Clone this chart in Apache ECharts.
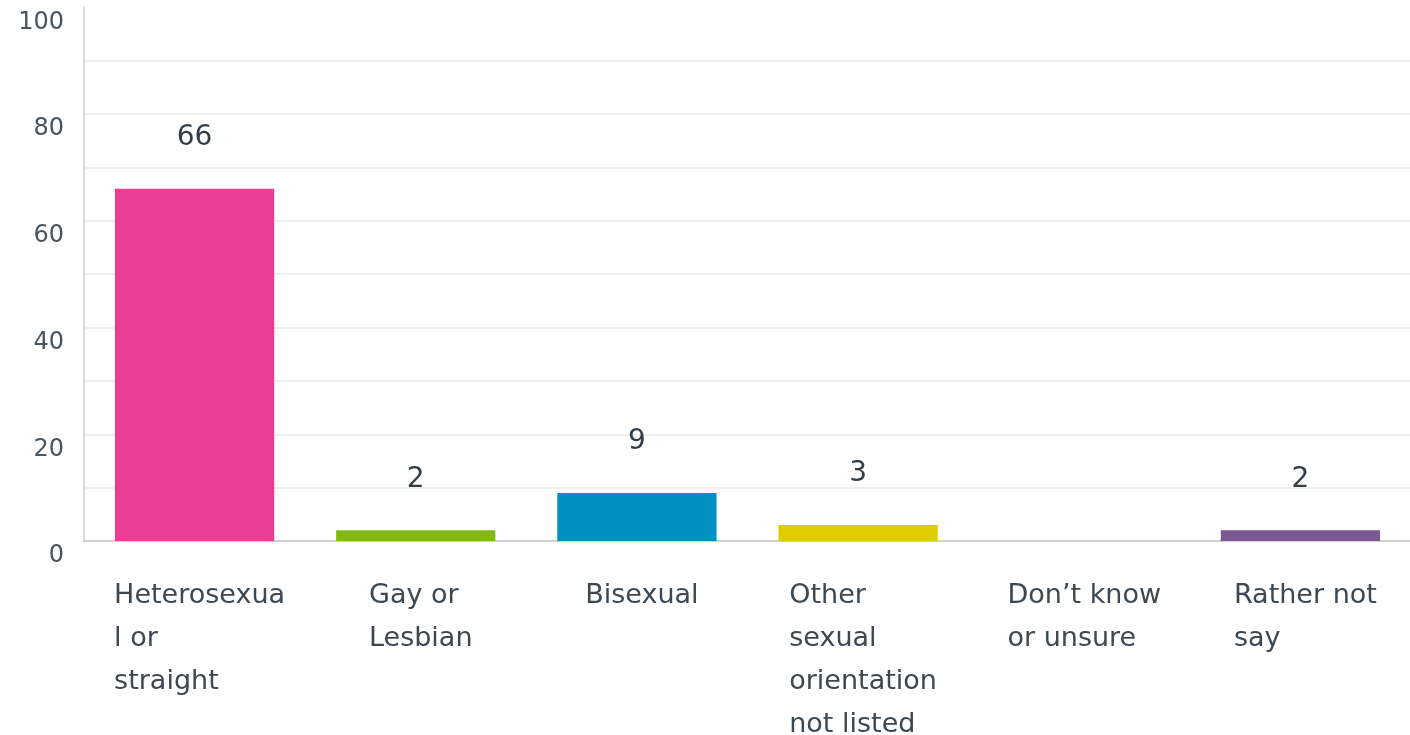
<!DOCTYPE html>
<html>
<head>
<meta charset="utf-8">
<script src="https://cdn.jsdelivr.net/npm/echarts@6/dist/echarts.min.js"></script>
<style>
html,body{margin:0;padding:0;background:#fff;}
#chart{width:1410px;height:735px;}
</style>
</head>
<body>
<div id="chart"></div>
<script>
const categories = ['Heterosexua\nl or\nstraight', 'Gay or\nLesbian', 'Bisexual', 'Other\nsexual\norientation\nnot listed', 'Don\u2019t know\nor unsure', 'Rather not\nsay'];
const values = [66, 2, 9, 3, 0, 2];
const barColors = ['#e83e93', '#82b817', '#0091c1', '#dfcc00', '#9b9b9b', '#7b5a94'];
const yTicks = [0, 20, 40, 60, 80, 100];

const chart = echarts.init(document.getElementById('chart'), null, {renderer: 'canvas'});
const font = 'DejaVu Sans';
chart.setOption({
  animation: false,
  backgroundColor: '#ffffff',
  grid: {left: 84, width: 1327, top: 7.4, bottom: 194, containLabel: false, outerBoundsMode: 'none'},
  xAxis: {
    type: 'category',
    data: categories,
    axisTick: {show: false},
    axisLine: {show: true, lineStyle: {color: '#cfd0d0', width: 2}},
    axisLabel: {
      margin: 33,
      interval: 0,
      padding: [0, 0, 0, 10],
      formatter: function (v) {
        return v.split('\n').map(function (l) { return '{a|' + l + '}'; }).join('\n');
      },
      rich: {
        a: {fontFamily: font, fontSize: 27, lineHeight: 43, color: '#3d4852', align: 'left'}
      }
    }
  },
  yAxis: {
    type: 'value',
    min: yTicks[0],
    max: yTicks[yTicks.length - 1],
    interval: 10,
    axisLine: {show: true, lineStyle: {color: '#dadcdc', width: 2}},
    axisTick: {show: false},
    splitLine: {show: true, showMaxLine: false, showMinLine: false, lineStyle: {color: '#eef0f0', width: 2}},
    axisLabel: {
      margin: 20,
      fontFamily: font,
      fontSize: 24,
      lineHeight: 30,
      verticalAlign: 'top',
      color: '#4b555e',
      formatter: function (v) { return yTicks.indexOf(v) >= 0 ? String(v) : ''; }
    }
  },
  series: [{
    type: 'bar',
    data: values,
    barWidth: '72%',
    itemStyle: {
      color: function (p) { return barColors[p.dataIndex]; }
    },
    label: {
      show: true,
      position: 'top',
      distance: 37,
      fontFamily: font,
      fontSize: 28,
      lineHeight: 28,
      color: '#333d47',
      formatter: function (p) { return p.value === 0 ? '' : String(p.value); }
    }
  }]
});
</script>
</body>
</html>
